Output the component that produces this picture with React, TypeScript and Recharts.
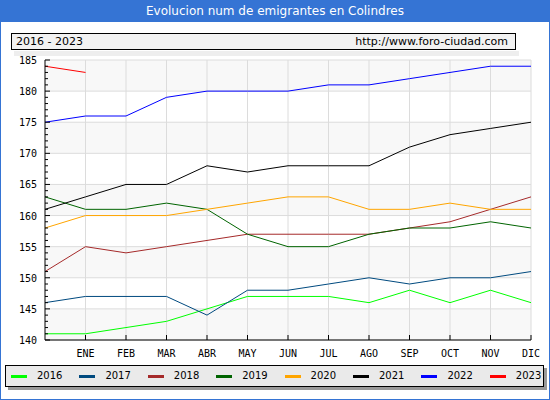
import React from 'react';
import { LineChart, Line, XAxis, YAxis, ReferenceArea, ReferenceLine } from 'recharts';

const months = ['', 'ENE', 'FEB', 'MAR', 'ABR', 'MAY', 'JUN', 'JUL', 'AGO', 'SEP', 'OCT', 'NOV', 'DIC'];

const y2016 = [141, 141, 142, 143, 145, 147, 147, 147, 146, 148, 146, 148, 146];
const y2017 = [146, 147, 147, 147, 144, 148, 148, 149, 150, 149, 150, 150, 151];
const y2018 = [151, 155, 154, 155, 156, 157, 157, 157, 157, 158, 159, 161, 163];
const y2019 = [163, 161, 161, 162, 161, 157, 155, 155, 157, 158, 158, 159, 158];
const y2020 = [158, 160, 160, 160, 161, 162, 163, 163, 161, 161, 162, 161, 161];
const y2021 = [161, 163, 165, 165, 168, 167, 168, 168, 168, 171, 173, 174, 175];
const y2022 = [175, 176, 176, 179, 180, 180, 180, 181, 181, 182, 183, 184, 184];
const y2023 = [184, 183];

const yTicks = Array.from({ length: 46 }, (_, i) => 140 + i);
const yMajor = [140, 145, 150, 155, 160, 165, 170, 175, 180, 185];
// shaded bands of the plot background
const bands = [
  [140, 145],
  [150, 155],
  [160, 165],
  [170, 175],
  [180, 185],
];

const series = [
  { key: 'y2016', name: '2016', color: '#00ff00', values: y2016 },
  { key: 'y2017', name: '2017', color: '#004a7f', values: y2017 },
  { key: 'y2018', name: '2018', color: '#a52a2a', values: y2018 },
  { key: 'y2019', name: '2019', color: '#006400', values: y2019 },
  { key: 'y2020', name: '2020', color: '#ffa500', values: y2020 },
  { key: 'y2021', name: '2021', color: '#000000', values: y2021 },
  { key: 'y2022', name: '2022', color: '#0000ff', values: y2022 },
  { key: 'y2023', name: '2023', color: '#ff0000', values: y2023 },
];

const data = months.map((m, i) => {
  const row: any = { month: m };
  series.forEach((s) => {
    if (i < s.values.length) row[s.key] = s.values[i];
  });
  return row;
});

const axisFont = '"DejaVu Sans Mono", monospace';
const textFont = '"DejaVu Sans", sans-serif';
const frameBlue = '#3574d4';
const gridColor = '#dcdcdc';

const YTick = (props: any) => {
  const { x, y, payload } = props;
  const major = yMajor.includes(payload.value);
  return (
    <g>
      <line x1={x} x2={x + (major ? 5 : 3)} y1={y} y2={y} stroke="#000" />
      {major && (
        <text x={x - 8} y={y} dy={4} textAnchor="end" fontSize={10} fontFamily={axisFont} fill="#000">
          {payload.value}
        </text>
      )}
    </g>
  );
};

const XTick = (props: any) => {
  const { x, y, payload } = props;
  if (!payload.value) return null;
  return (
    <g>
      <line x1={x} x2={x} y1={y - 5} y2={y} stroke="#000" />
      <text x={x} y={y} dy={17} textAnchor="middle" fontSize={10} fontFamily={axisFont} fill="#000">
        {payload.value}
      </text>
    </g>
  );
};

export default function App() {
  return (
    <div
      style={{
        position: 'absolute',
        left: 0,
        top: 0,
        width: 550,
        height: 400,
        boxSizing: 'border-box',
        border: `1px solid ${frameBlue}`,
        background: '#fff',
        overflow: 'hidden',
      }}
    >
      <div style={{ position: 'absolute', left: -1, top: -1 }}>
        <LineChart width={550} height={400} data={data} margin={{ top: 60, right: 19, bottom: 40, left: 5 }}>
          {bands.map(([lo, hi]) => (
            <ReferenceArea key={lo} y1={lo} y2={hi} fill="#f8f8f8" fillOpacity={1} stroke="none" />
          ))}
          {yMajor.map((v) => (
            <ReferenceLine key={'h' + v} y={v} stroke={gridColor} />
          ))}
          {months.filter((m) => m).map((m) => (
            <ReferenceLine key={'v' + m} x={m} stroke={gridColor} />
          ))}
          <XAxis
            dataKey="month"
            interval={0}
            height={20}
            tickSize={0}
            tickMargin={0}
            tickLine={false}
            tick={<XTick />}
            axisLine={{ stroke: '#000' }}
          />
          <YAxis
            domain={[140, 185]}
            ticks={yTicks}
            interval={0}
            width={40}
            tickSize={0}
            tickMargin={0}
            tickLine={false}
            tick={<YTick />}
            axisLine={{ stroke: '#000' }}
          />
          {series.map((s) => (
            <Line
              key={s.key}
              dataKey={s.key}
              name={s.name}
              stroke={s.color}
              strokeWidth={1}
              dot={false}
              type="linear"
              isAnimationActive={false}
            />
          ))}
        </LineChart>
      </div>

      <div
        style={{
          position: 'absolute',
          left: -1,
          top: -1,
          width: 550,
          height: 22,
          background: frameBlue,
          color: '#fff',
          fontFamily: textFont,
          fontSize: 12,
          lineHeight: '22px',
          textAlign: 'center',
        }}
      >
        Evolucion num de emigrantes en Colindres
      </div>

      <div style={{ position: 'absolute', left: 13, top: 50, width: 505, height: 5, background: '#eeeeee' }} />
      <div
        style={{
          position: 'absolute',
          left: 10,
          top: 32,
          width: 503,
          height: 15,
          border: '1px solid #000',
          background: '#f2f2f2',
          fontFamily: textFont,
          fontSize: 11,
          lineHeight: '15px',
        }}
      >
        <span style={{ position: 'absolute', left: 4 }}>2016 - 2023</span>
        <span style={{ position: 'absolute', right: 7 }}>http://www.foro-ciudad.com</span>
      </div>

      <div
        style={{
          position: 'absolute',
          left: 4,
          top: 364,
          width: 537,
          height: 20,
          border: '1px solid #000',
          background: '#eaeaea',
          boxShadow: '3px 3px 0 #999',
          fontFamily: textFont,
          fontSize: 10,
        }}
      >
        {series.map((s, i) => (
          <div key={s.key} style={{ position: 'absolute', left: 5 + i * 68.4, top: 0, height: 20 }}>
            <div style={{ position: 'absolute', left: 0, top: 9, width: 16, height: 3, background: s.color }} />
            <div style={{ position: 'absolute', left: 26, top: 0, lineHeight: '20px' }}>{s.name}</div>
          </div>
        ))}
      </div>
    </div>
  );
}
